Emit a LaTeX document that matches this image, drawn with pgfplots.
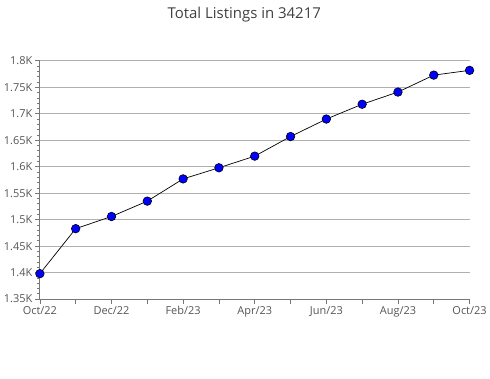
\documentclass[border=0pt]{standalone}
\usepackage{fontspec}
\setmainfont{Open Sans}
\usepackage{pgfplots}
\pgfplotsset{compat=1.18}
\definecolor{txt}{HTML}{555555}
\definecolor{gridc}{HTML}{B0B0B0}
\definecolor{axc}{HTML}{777777}
\begin{document}
\begin{tikzpicture}
\begin{axis}[
  scale only axis, width=431pt, height=239pt,
  xmin=0, xmax=12, ymin=1350, ymax=1800,
  axis lines=left, axis line style={axc, -, line width=0.9pt},
  xtick={0,...,12},
  xticklabels={Oct/22,,Dec/22,,Feb/23,,Apr/23,,Jun/23,,Aug/23,,Oct/23},
  ytick={1350,1400,...,1800},
  yticklabels={1.35K,1.4K,1.45K,1.5K,1.55K,1.6K,1.65K,1.7K,1.75K,1.8K},
  minor y tick num=4,
  tick align=outside, tick pos=left,
  major tick length=5pt, minor tick length=3pt,
  tick style={axc, line width=0.7pt},
  ymajorgrids, grid style={gridc, line width=0.9pt},
  ticklabel style={font=\fontsize{11}{12}\selectfont, text=txt},
  xticklabel style={yshift=1pt},
  yticklabel style={xshift=1pt},
  clip=false,
]
\addplot[black, line width=0.7pt, mark=*, mark size=4.3pt,
  mark options={fill=blue, draw=black, line width=0.6pt}] coordinates {
  (0,1398) (1,1483) (2,1506) (3,1535) (4,1577) (5,1598) (6,1620)
  (7,1657) (8,1690) (9,1718) (10,1741) (11,1773) (12,1782)
};
\end{axis}
\node[font=\fontsize{15}{18}\selectfont, text=black!75] at (205pt,285pt) {Total Listings in 34217};
\path[use as bounding box] (-40pt,-80pt) rectangle (450pt,300pt);
\end{tikzpicture}
\end{document}
